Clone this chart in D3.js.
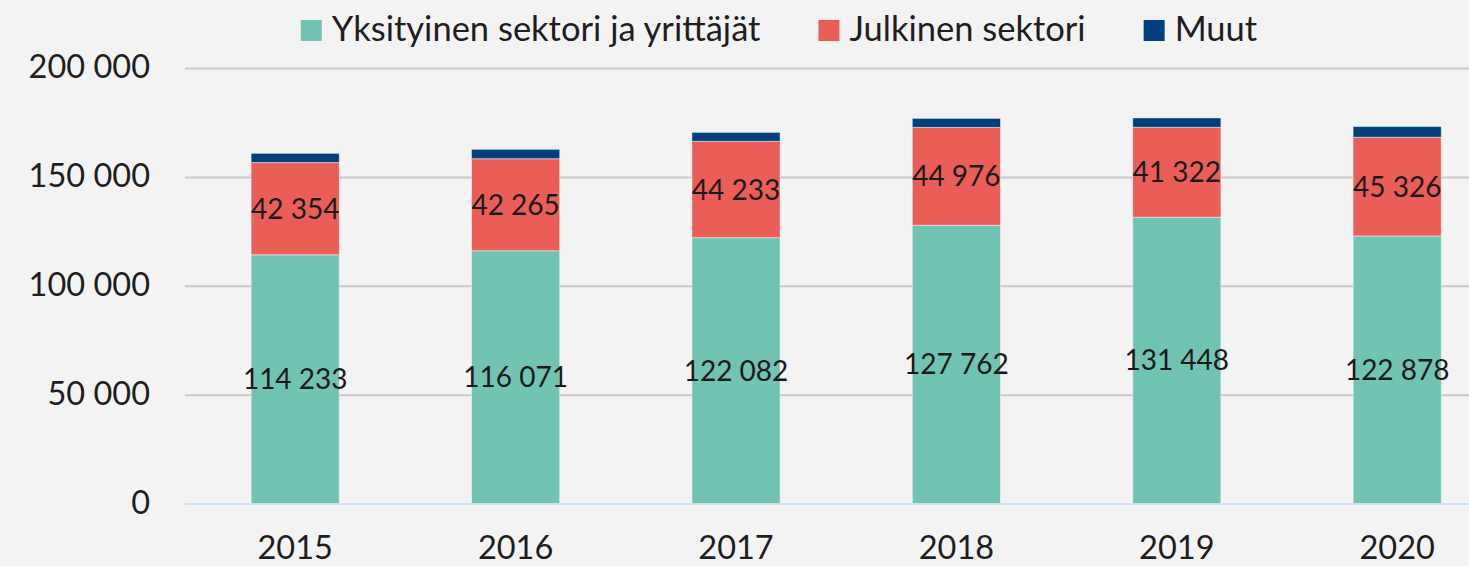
<!DOCTYPE html>
<html>
<head>
<meta charset="utf-8">
<script src="https://cdn.jsdelivr.net/npm/d3@7"></script>
<style>
  html, body { margin: 0; padding: 0; background: #f3f3f3; }
  svg { display: block; font-family: Lato, "Open Sans", sans-serif; }
</style>
</head>
<body>
<div id="chart"></div>
<script>
// data
var years = ["2015", "2016", "2017", "2018", "2019", "2020"];
var yksityinen = [114233, 116071, 122082, 127762, 131448, 122878];
var julkinen = [42354, 42265, 44233, 44976, 41322, 45326];
var muut = [4200, 4300, 4100, 4100, 4300, 4900]; // estimated, no labels
var seriesNames = ["Yksityinen sektori ja yrittäjät", "Julkinen sektori", "Muut"];
var seriesColors = ["#71c3b3", "#eb5e58", "#013f7d"];
var yTicks = [0, 50000, 100000, 150000, 200000];

var W = 1469, H = 566;
var margin = {top: 68, left: 185, bottom: 62.5};
var plotRight = 1507.4; // plot runs past the cropped edge

var svg = d3.select("#chart").append("svg")
  .attr("width", W).attr("height", H);

svg.append("rect").attr("width", W).attr("height", H).attr("fill", "#f3f3f3");

var x = d3.scaleBand()
  .domain(years)
  .range([margin.left, plotRight])
  .paddingInner(0.6)
  .paddingOuter(0.3);

var y = d3.scaleLinear()
  .domain([0, 200000])
  .range([H - margin.bottom, margin.top]);

var fmt = function(v) { return d3.format(",")(v).replace(/,/g, " "); };

// gridlines + y labels
var yAxis = d3.axisLeft(y)
  .tickValues(yTicks)
  .tickSize(-(plotRight - margin.left))
  .tickPadding(35)
  .tickFormat(fmt);

var gY = svg.append("g")
  .attr("transform", "translate(" + margin.left + ",0)")
  .call(yAxis);
gY.select(".domain").remove();
gY.selectAll(".tick line")
  .attr("stroke", function(d) { return d === 0 ? "#cfe2f5" : "#c9c9c9"; })
  .attr("stroke-width", 2);
gY.selectAll(".tick text")
  .attr("fill", "#1e1e1e")
  .attr("font-size", 32.5)
  .attr("font-family", "Lato, sans-serif")
  .attr("dy", "0.3em");

// stacked data
var table = years.map(function(yr, i) {
  return {year: yr, a: yksityinen[i], b: julkinen[i], c: muut[i]};
});
var stack = d3.stack().keys(["a", "b", "c"]);
var layers = stack(table);

var gBars = svg.append("g");
layers.forEach(function(layer, li) {
  gBars.selectAll(".bar" + li)
    .data(layer)
    .enter()
    .append("rect")
    .attr("x", function(d) { return x(d.data.year); })
    .attr("width", x.bandwidth())
    .attr("y", function(d) { return y(d[1]); })
    .attr("height", function(d) { return y(d[0]) - y(d[1]); })
    .attr("fill", seriesColors[li])
    .attr("stroke", "#ffffff")
    .attr("stroke-opacity", 0.45)
    .attr("stroke-width", 1);
});

// value labels for the first two series
layers.slice(0, 2).forEach(function(layer) {
  gBars.selectAll(null)
    .data(layer)
    .enter()
    .append("text")
    .attr("x", function(d) { return x(d.data.year) + x.bandwidth() / 2; })
    .attr("y", function(d) { return (y(d[0]) + y(d[1])) / 2; })
    .attr("dy", "0.36em")
    .attr("text-anchor", "middle")
    .attr("font-size", 28)
    .attr("fill", "#1a1a1a")
    .text(function(d) { return fmt(d[1] - d[0]); });
});

// x labels
svg.append("g").selectAll("text")
  .data(years)
  .enter()
  .append("text")
  .attr("x", function(d) { return x(d) + x.bandwidth() / 2; })
  .attr("y", 559)
  .attr("text-anchor", "middle")
  .attr("font-size", 32.5)
  .attr("fill", "#1e1e1e")
  .text(function(d) { return d; });

// legend, centred above the plot
var legend = svg.append("g");
var items = legend.selectAll("g")
  .data(seriesNames)
  .enter()
  .append("g");
items.append("rect")
  .attr("width", 21).attr("height", 21)
  .attr("y", 20)
  .attr("fill", function(d, i) { return seriesColors[i]; });
items.append("text")
  .attr("x", 31)
  .attr("y", 41)
  .attr("font-size", 34.5)
  .attr("fill", "#1e1e1e")
  .text(function(d) { return d; });

var pos = 0, gap = 58;
items.each(function() {
  var w = 31 + this.querySelector("text").getComputedTextLength();
  d3.select(this).attr("transform", "translate(" + pos + ",0)");
  pos += w + gap;
});
var total = pos - gap;
legend.attr("transform", "translate(" + (779 - total / 2) + ",0)");
</script>
</body>
</html>
